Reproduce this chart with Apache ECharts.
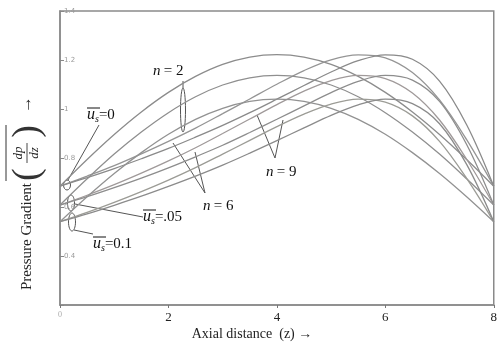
<!DOCTYPE html>
<html>
<head>
<meta charset="utf-8">
<script src="https://cdn.jsdelivr.net/npm/echarts@6/dist/echarts.min.js"></script>
<style>
  html, body { margin: 0; padding: 0; background: #fff; }
  #chart { width: 500px; height: 347px; }
</style>
</head>
<body>
<div id="chart"></div>
<script>
// Axial positions along the stenosed segment
const zValues = [0, 0.5, 1, 1.5, 2, 2.5, 3, 3.5, 4, 4.5, 5, 5.5, 6, 6.5, 7, 7.5, 8];

// Pressure gradient, slip velocity us = 0
const us0_n2 = [0.685, 0.794, 0.896, 0.988, 1.068, 1.133, 1.182, 1.212, 1.222, 1.212, 1.182, 1.133, 1.068, 0.988, 0.896, 0.794, 0.685];
const us0_n6 = [0.685, 0.726, 0.769, 0.817, 0.868, 0.922, 0.981, 1.041, 1.101, 1.157, 1.201, 1.221, 1.209, 1.149, 1.037, 0.875, 0.685];
const us0_n9 = [0.685, 0.720, 0.757, 0.797, 0.839, 0.885, 0.933, 0.985, 1.040, 1.096, 1.151, 1.197, 1.221, 1.203, 1.114, 0.936, 0.685];

// Pressure gradient, slip velocity us = 0.05
const us05_n2 = [0.608, 0.715, 0.816, 0.906, 0.985, 1.050, 1.098, 1.127, 1.137, 1.127, 1.098, 1.050, 0.985, 0.906, 0.816, 0.715, 0.608];
const us05_n6 = [0.608, 0.648, 0.691, 0.738, 0.788, 0.842, 0.900, 0.959, 1.018, 1.073, 1.116, 1.137, 1.124, 1.065, 0.955, 0.795, 0.608];
const us05_n9 = [0.608, 0.642, 0.679, 0.718, 0.760, 0.805, 0.852, 0.904, 0.958, 1.013, 1.067, 1.113, 1.137, 1.118, 1.031, 0.855, 0.608];

// Pressure gradient, slip velocity us = 0.1
const us1_n2 = [0.540, 0.642, 0.737, 0.822, 0.897, 0.958, 1.003, 1.031, 1.040, 1.031, 1.003, 0.958, 0.897, 0.822, 0.737, 0.642, 0.540];
const us1_n6 = [0.540, 0.578, 0.619, 0.663, 0.710, 0.761, 0.816, 0.872, 0.928, 0.979, 1.020, 1.040, 1.028, 0.972, 0.868, 0.717, 0.540];
const us1_n9 = [0.540, 0.572, 0.607, 0.644, 0.684, 0.726, 0.771, 0.820, 0.871, 0.923, 0.974, 1.017, 1.040, 1.022, 0.940, 0.774, 0.540];

const yTickLabels = { '0.4': '0.4', '0.6': '0.6', '0.8': '0.8', '1': '1', '1.2': '1.2', '1.4': '1.4' };

const curves = [
  { name: 'us=0, n=2', data: us0_n2, color: '#8c8c8c' },
  { name: 'us=0, n=6', data: us0_n6, color: '#959595' },
  { name: 'us=0, n=9', data: us0_n9, color: '#8a8a8a' },
  { name: 'us=0.05, n=2', data: us05_n2, color: '#8f8f8f' },
  { name: 'us=0.05, n=6', data: us05_n6, color: '#a09a9a' },
  { name: 'us=0.05, n=9', data: us05_n9, color: '#8d8d8d' },
  { name: 'us=0.1, n=2', data: us1_n2, color: '#929292' },
  { name: 'us=0.1, n=6', data: us1_n6, color: '#9c9c96' },
  { name: 'us=0.1, n=9', data: us1_n9, color: '#8b8b8b' }
];

const serif = '"Liberation Serif", "DejaVu Serif", serif';
const chart = echarts.init(document.getElementById('chart'), null, { renderer: 'canvas' });

// Overlined, subscripted slip-velocity label: bar drawn over "us"
function usLabel(x, y, tail) {
  return {
    type: 'group', x: x, y: y,
    children: [
      { type: 'text', x: 0, y: 0, style: { text: '{u|u}{s|s}{t|' + tail + '}', fill: '#111',
        rich: { u: { fontFamily: serif, fontSize: 16, fontStyle: 'italic', fill: '#111' },
                s: { fontFamily: serif, fontSize: 10, fontStyle: 'italic', fill: '#111', padding: [8, 0, 0, 0] },
                t: { fontFamily: serif, fontSize: 15, fill: '#111' } } } },
      { type: 'line', shape: { x1: 0, y1: 2, x2: 13, y2: 2 }, style: { stroke: '#111', lineWidth: 1 } }
    ]
  };
}

function nLabel(x, y, v) {
  return { type: 'text', x: x, y: y, style: { text: '{n|n} {e|= ' + v + '}',
    rich: { n: { fontFamily: serif, fontSize: 15, fontStyle: 'italic', fill: '#111' },
            e: { fontFamily: serif, fontSize: 15, fill: '#111' } } } };
}

const pointer = { stroke: '#555', lineWidth: 1 };
const ring = { fill: 'none', stroke: '#555', lineWidth: 1 };

chart.setOption({
  animation: false,
  backgroundColor: '#fff',
  grid: { left: 60, right: 3, top: 11, bottom: 42, show: true, borderColor: '#8a8a8a', borderWidth: 1.5 },
  xAxis: {
    type: 'value', min: 0, max: 8, interval: 2,
    axisLine: { show: true, lineStyle: { color: '#8a8a8a', width: 1.5 } },
    axisTick: { show: true, length: 3, lineStyle: { color: '#777' } },
    splitLine: { show: false },
    axisLabel: {
      margin: 6, color: '#222', fontFamily: serif, fontSize: 13,
      formatter: v => (v === 0 ? '{z|0}' : String(v)),
      rich: { z: { color: '#aaa', fontSize: 8, fontFamily: serif } }
    }
  },
  yAxis: {
    type: 'value', min: 0.2, max: 1.4, interval: 0.2,
    axisLine: { show: true, lineStyle: { color: '#8a8a8a', width: 1.5 } },
    axisTick: { show: true, inside: true, length: 4, lineStyle: { color: '#888' } },
    splitLine: { show: false },
    axisLabel: {
      inside: true, margin: 4, color: '#9a9a9a', fontFamily: '"DejaVu Sans", sans-serif', fontSize: 7,
      formatter: v => yTickLabels[String(Math.round(v * 10) / 10)] || ''
    }
  },
  series: curves.map(c => ({
    type: 'line', name: c.name, smooth: 0.35, showSymbol: false, silent: true,
    lineStyle: { color: c.color, width: 1.3 },
    data: zValues.map((z, i) => [z, c.data[i]])
  })),
  graphic: [
    // y-axis title: "Pressure Gradient (dp/dz)" with an overline and arrow, read bottom-to-top
    {
      type: 'group', x: 27, y: 183, rotation: Math.PI / 2,
      children: [
        { type: 'text', x: 0, y: 0, style: { text: 'Pressure Gradient', fontFamily: serif, fontSize: 15,
          fill: '#222', align: 'right', verticalAlign: 'middle' } },
        { type: 'text', x: 2, y: 1, style: { text: '(', fontFamily: serif, fontSize: 38, fill: '#333', align: 'left', verticalAlign: 'middle' } },
        { type: 'text', x: 30, y: -8, style: { text: 'dp', fontFamily: serif, fontSize: 13, fontStyle: 'italic', fill: '#222', align: 'center', verticalAlign: 'middle' } },
        { type: 'line', shape: { x1: 20, y1: 0, x2: 40, y2: 0 }, style: { stroke: '#333', lineWidth: 0.9 } },
        { type: 'text', x: 30, y: 8, style: { text: 'dz', fontFamily: serif, fontSize: 13, fontStyle: 'italic', fill: '#222', align: 'center', verticalAlign: 'middle' } },
        { type: 'text', x: 58, y: 1, style: { text: ')', fontFamily: serif, fontSize: 38, fill: '#333', align: 'right', verticalAlign: 'middle' } },
        { type: 'line', shape: { x1: 2, y1: -21, x2: 58, y2: -21 }, style: { stroke: '#333', lineWidth: 1 } },
        { type: 'text', x: 70, y: 0, style: { text: '→', fontFamily: serif, fontSize: 17, fill: '#222', align: 'left', verticalAlign: 'middle' } }
      ]
    },
    // x-axis title
    { type: 'text', x: 252, y: 334, style: { text: 'Axial distance  (z) →', fontFamily: serif, fontSize: 14,
      fill: '#222', align: 'center', verticalAlign: 'middle' } },

    // slip-velocity callouts
    usLabel(87, 106, '=0'),
    { type: 'line', shape: { x1: 99, y1: 125, x2: 68, y2: 180 }, style: pointer },
    { type: 'ellipse', shape: { cx: 67, cy: 185, rx: 3.5, ry: 5 }, style: ring },

    usLabel(143, 208, '=.05'),
    { type: 'ellipse', shape: { cx: 71, cy: 203, rx: 3.5, ry: 8 }, style: ring },
    { type: 'line', shape: { x1: 75, y1: 204, x2: 143, y2: 217 }, style: pointer },

    usLabel(93, 235, '=0.1'),
    { type: 'ellipse', shape: { cx: 72, cy: 222, rx: 3.5, ry: 9 }, style: ring },
    { type: 'line', shape: { x1: 74, y1: 230, x2: 93, y2: 234 }, style: pointer },

    // shape-parameter callouts
    nLabel(153, 64, 2),
    { type: 'line', shape: { x1: 183, y1: 81, x2: 183, y2: 88 }, style: pointer },
    { type: 'ellipse', shape: { cx: 183, cy: 110, rx: 2.5, ry: 22 }, style: ring },

    nLabel(203, 199, 6),
    { type: 'polyline', shape: { points: [[173, 143], [205, 193], [195, 152]] }, style: ring },

    nLabel(266, 165, 9),
    { type: 'polyline', shape: { points: [[257, 115], [275, 158], [283, 120]] }, style: ring }
  ]
});
</script>
</body>
</html>
